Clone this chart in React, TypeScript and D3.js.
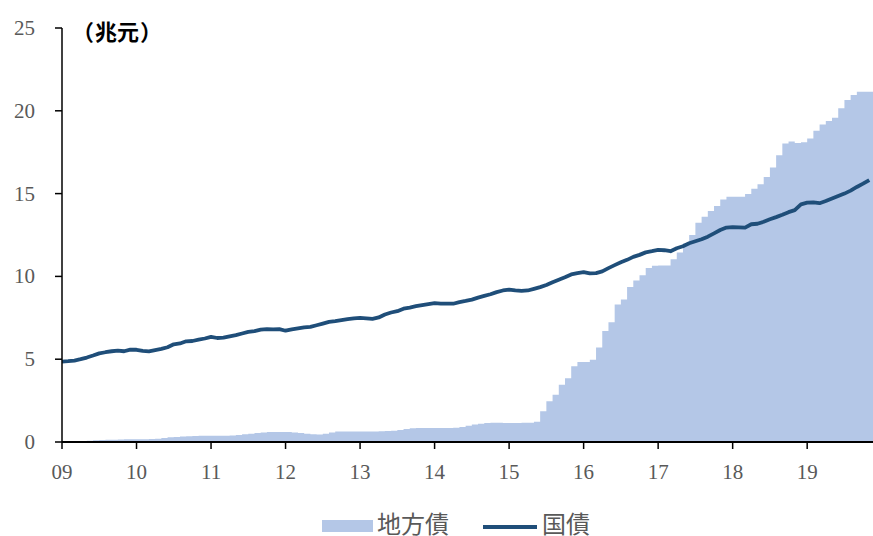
import React from "react";
import * as d3 from "d3";

// Month index 0 = Jan 2009, one value per month through Nov 2019
const yearLabels = ["09", "10", "11", "12", "13", "14", "15", "16", "17", "18", "19"];
const yTicks = [0, 5, 10, 15, 20, 25];

// 地方債 outstanding (trillion yen), monthly
const localBonds = [
  0, 0, 0, 0, 0.08, 0.1, 0.12, 0.13, 0.14, 0.15, 0.16, 0.16,
  0.17, 0.17, 0.18, 0.2, 0.24, 0.28, 0.3, 0.33, 0.35, 0.36, 0.37, 0.37,
  0.38, 0.38, 0.38, 0.4, 0.42, 0.47, 0.5, 0.55, 0.58, 0.6, 0.6, 0.6,
  0.6, 0.58, 0.55, 0.5, 0.47, 0.45, 0.5, 0.58, 0.63, 0.64, 0.64, 0.64,
  0.64, 0.64, 0.64, 0.65, 0.66, 0.68, 0.72, 0.78, 0.83, 0.85, 0.85, 0.85,
  0.85, 0.85, 0.85, 0.86, 0.9, 0.98, 1.05, 1.1, 1.15, 1.17, 1.16, 1.15,
  1.15, 1.15, 1.16, 1.17, 1.22, 1.86, 2.46, 2.86, 3.45, 3.85, 4.57, 4.83,
  4.83, 4.97, 5.71, 6.71, 7.23, 8.3, 8.6, 9.36, 9.75, 10.07, 10.51, 10.65,
  10.66, 10.66, 11.04, 11.45, 11.98, 12.5, 13.24, 13.6, 13.95, 14.25, 14.65, 14.81,
  14.81, 14.81, 14.98, 15.3, 15.56, 16.0, 16.58, 17.31, 18.03, 18.14, 18.06, 18.1,
  18.33, 18.79, 19.18, 19.38, 19.58, 20.15, 20.65, 20.95, 21.15, 21.15, 21.15,
];

// 国債 outstanding (trillion yen), monthly
const govBonds = [
  4.85, 4.88, 4.92, 5.0, 5.1, 5.22, 5.35, 5.42, 5.48, 5.52, 5.48, 5.58,
  5.57, 5.5, 5.47, 5.55, 5.62, 5.72, 5.9, 5.95, 6.08, 6.1, 6.18, 6.25,
  6.35, 6.28, 6.3, 6.38, 6.45, 6.55, 6.65, 6.7, 6.78, 6.82, 6.8, 6.82,
  6.72, 6.8, 6.86, 6.92, 6.95, 7.05, 7.15, 7.25, 7.3, 7.36, 7.42, 7.47,
  7.49, 7.47, 7.43, 7.52, 7.7, 7.82, 7.9, 8.05, 8.12, 8.2, 8.27, 8.33,
  8.38, 8.35, 8.36, 8.35, 8.45, 8.52, 8.6, 8.72, 8.82, 8.92, 9.05, 9.15,
  9.2, 9.15, 9.12, 9.15, 9.25, 9.35, 9.48, 9.65, 9.8, 9.95, 10.12, 10.2,
  10.26, 10.18, 10.2, 10.3, 10.5, 10.68, 10.85, 11.0, 11.18, 11.3, 11.45, 11.52,
  11.6, 11.58, 11.52, 11.7, 11.82, 12.0, 12.12, 12.24, 12.4, 12.6, 12.8, 12.95,
  12.98, 12.96, 12.94, 13.15, 13.18, 13.3, 13.45, 13.58, 13.72, 13.88, 14.0, 14.35,
  14.45, 14.47, 14.42, 14.55, 14.7, 14.85, 15.0, 15.18, 15.4, 15.6, 15.82,
];

const W = 873;
const H = 536;
const left = 62;
const right = 873;
const top = 28;
const bottom = 442;

const BAR_COLOR = "#b4c7e7";
const LINE_COLOR = "#1f4e79";
const LABEL_COLOR = "#595959";
const SERIF = "'Liberation Serif', 'Times New Roman', serif";
const CJK = "'Noto Sans CJK JP', 'Noto Sans CJK SC', sans-serif";

export default function App() {
  const x = d3.scaleLinear().domain([0, 130.6]).range([left, right]);
  const y = d3.scaleLinear().domain([0, 25]).range([bottom, top]);

  // step area: each month fills [i, i+1)
  const stepPts: [number, number][] = [];
  localBonds.forEach((v, i) => {
    stepPts.push([i, v]);
    stepPts.push([i + 1, v]);
  });
  const area = d3
    .area<[number, number]>()
    .x((d) => x(d[0]))
    .y0(y(0))
    .y1((d) => y(d[1]));

  const line = d3
    .line<number>()
    .x((_, i) => x(i))
    .y((d) => y(d));

  return (
    <svg
      width={W}
      height={H}
      style={{ position: "absolute", left: 0, top: 0, background: "#fff" }}
    >
      <defs>
        <clipPath id="plot">
          <rect x={left} y={0} width={right - left} height={bottom} />
        </clipPath>
      </defs>

      <g clipPath="url(#plot)">
        <path d={area(stepPts) ?? ""} fill={BAR_COLOR} />
        <path
          d={line(govBonds) ?? ""}
          fill="none"
          stroke={LINE_COLOR}
          strokeWidth={3.8}
          strokeLinejoin="round"
        />
      </g>

      {/* y axis */}
      <line x1={left} x2={left} y1={top} y2={bottom} stroke="#000" strokeWidth={1.5} />
      {yTicks.map((t) => (
        <g key={t}>
          <line x1={left - 7} x2={left} y1={y(t)} y2={y(t)} stroke="#000" strokeWidth={1.5} />
          <text
            x={35}
            y={y(t)}
            textAnchor="end"
            dominantBaseline="central"
            fontFamily={SERIF}
            fontSize={21}
            fill={LABEL_COLOR}
          >
            {t}
          </text>
        </g>
      ))}

      {/* x axis */}
      <line x1={left} x2={right} y1={bottom} y2={bottom} stroke="#000" strokeWidth={2} />
      {yearLabels.map((lab, k) => (
        <g key={lab}>
          <line
            x1={x(k * 12)}
            x2={x(k * 12)}
            y1={bottom}
            y2={bottom + 7}
            stroke="#000"
            strokeWidth={1.5}
          />
          <text
            x={x(k * 12)}
            y={472}
            textAnchor="middle"
            dominantBaseline="central"
            fontFamily={SERIF}
            fontSize={21}
            fill={LABEL_COLOR}
          >
            {lab}
          </text>
        </g>
      ))}

      {/* unit */}
      <text
        x={72}
        y={30}
        dominantBaseline="central"
        fontFamily={CJK}
        fontSize={22}
        fontWeight={700}
        fill="#000"
      >
        <tspan>（</tspan>
        <tspan dx={1}>兆元</tspan>
        <tspan dx={1}>）</tspan>
      </text>

      {/* legend */}
      <rect x={322} y={520} width={51} height={12} fill={BAR_COLOR} />
      <text
        x={377}
        y={522}
        dominantBaseline="central"
        fontFamily={CJK}
        fontSize={24}
        fill={LABEL_COLOR}
      >
        地方債
      </text>
      <line x1={483} x2={537} y1={527} y2={527} stroke={LINE_COLOR} strokeWidth={3.8} />
      <text
        x={542}
        y={522}
        dominantBaseline="central"
        fontFamily={CJK}
        fontSize={24}
        fill={LABEL_COLOR}
      >
        国債
      </text>
    </svg>
  );
}
